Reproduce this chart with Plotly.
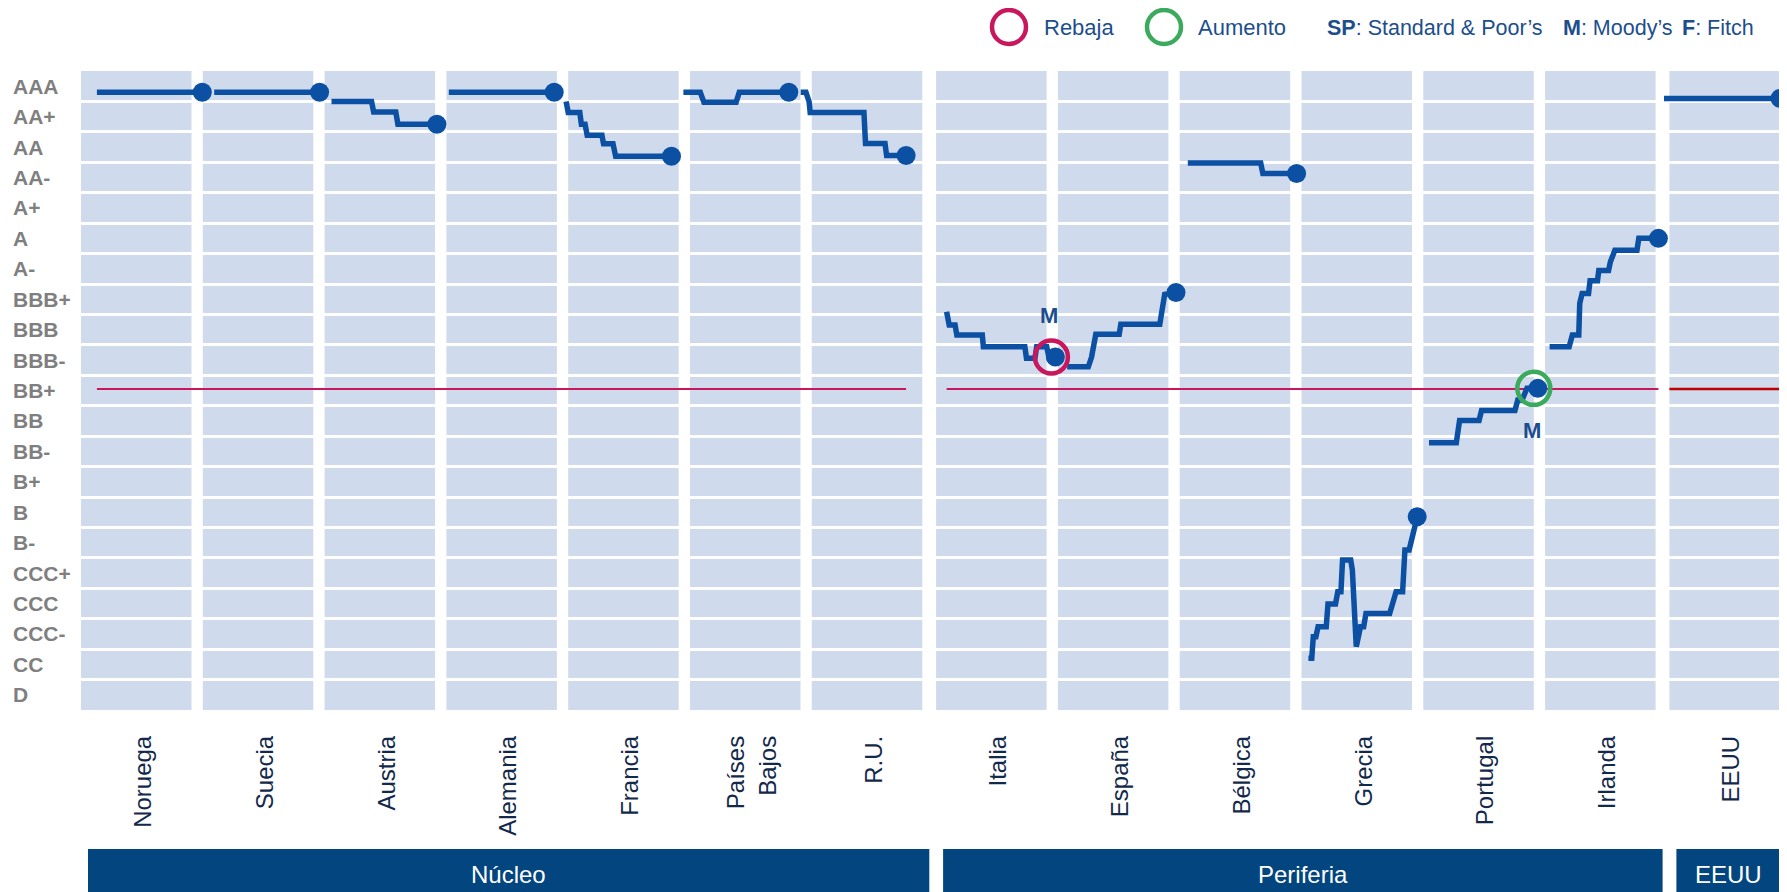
import plotly.graph_objects as go

# ---------------- data ----------------
ratings = ["D", "CC", "CCC-", "CCC", "CCC+", "B-", "B", "B+", "BB-", "BB", "BB+",
           "BBB-", "BBB", "BBB+", "A-", "A", "A+", "AA-", "AA", "AA+", "AAA"]
countries = ["Noruega", "Suecia", "Austria", "Alemania", "Francia", "Países<br>Bajos", "R.U.",
             "Italia", "España", "Bélgica", "Grecia", "Portugal", "Irlanda", "EEUU"]
country_group = ["Núcleo"] * 7 + ["Periferia"] * 6 + ["EEUU"]
group_names = ["Núcleo", "Periferia", "EEUU"]

# average rating (0 = D ... 20 = AAA) against fraction of the period shown
noruega_t = [0.0, 1.0]
noruega_v = [19.8, 19.8]
suecia_t = [0.0, 1.0]
suecia_v = [19.8, 19.8]
austria_t = [0.0, 0.38, 0.40, 0.61, 0.63, 1.0]
austria_v = [19.5, 19.5, 19.15, 19.15, 18.75, 18.75]
alemania_t = [0.0, 1.0]
alemania_v = [19.8, 19.8]
francia_t = [0.0, 0.02, 0.13, 0.145, 0.18, 0.2, 0.34, 0.355, 0.445, 0.47, 1.0]
francia_v = [19.5, 19.14, 19.14, 18.75, 18.75, 18.39, 18.39, 18.11, 18.11, 17.7, 17.7]
paises_bajos_t = [0.0, 0.16, 0.195, 0.5, 0.53, 1.0]
paises_bajos_v = [19.8, 19.8, 19.47, 19.47, 19.8, 19.8]
ru_t = [0.0, 0.05, 0.08, 0.09, 0.6, 0.615, 0.8, 0.815, 1.0]
ru_v = [19.8, 19.8, 19.49, 19.14, 19.14, 18.12, 18.12, 17.72, 17.72]
italia_t = [0.0, 0.024, 0.078, 0.094, 0.328, 0.338, 0.719, 0.734, 0.812, 0.828, 0.92, 0.94, 1.0]
italia_v = [12.59, 12.15, 12.15, 11.82, 11.82, 11.44, 11.44, 11.06, 11.06, 11.44, 11.44, 11.1, 11.1]
espana_t = [0.0, 0.194, 0.224, 0.263, 0.478, 0.493, 0.851, 0.866, 0.896, 1.0]
espana_v = [10.78, 10.78, 11.1, 11.85, 11.85, 12.18, 12.18, 12.55, 13.16, 13.22]
belgica_t = [0.0, 0.67, 0.69, 1.0]
belgica_v = [17.48, 17.48, 17.13, 17.13]
grecia_t = [0.0, 0.031, 0.045, 0.069, 0.089, 0.164, 0.18, 0.249, 0.27, 0.299, 0.314, 0.389,
            0.404, 0.44, 0.479, 0.508, 0.529, 0.747, 0.77, 0.806, 0.866, 0.887, 0.926, 0.947, 1.0]
grecia_v = [1.2, 1.2, 1.91, 1.91, 2.24, 2.24, 2.98, 2.98, 3.39, 3.39, 4.43, 4.43,
            4.1, 1.58, 2.24, 2.24, 2.67, 2.67, 2.95, 3.39, 3.39, 4.76, 4.76, 5.09, 5.85]
portugal_t = [0.0, 0.251, 0.268, 0.281, 0.46, 0.483, 0.79, 0.816, 0.856, 0.9, 1.0]
portugal_v = [8.28, 8.28, 8.7, 9.01, 9.01, 9.34, 9.34, 9.69, 9.69, 10.07, 10.07]
irlanda_t = [0.0, 0.18, 0.209, 0.268, 0.277, 0.299, 0.358, 0.372, 0.44, 0.452, 0.542, 0.559,
             0.6, 0.803, 0.82, 1.0]
irlanda_v = [11.44, 11.44, 11.82, 11.82, 12.86, 13.19, 13.19, 13.61, 13.61, 13.94, 13.94, 14.23,
             14.61, 14.61, 15.0, 15.0]
eeuu_t = [0.0, 1.0]
eeuu_v = [19.6, 19.6]

investment_grade_limit = 10.05
downgrade_country, downgrade_agency = "Italia", "M"
upgrade_country, upgrade_agency = "Portugal", "M"

series = {
    "Noruega": (noruega_t, noruega_v), "Suecia": (suecia_t, suecia_v),
    "Austria": (austria_t, austria_v), "Alemania": (alemania_t, alemania_v),
    "Francia": (francia_t, francia_v), "Países<br>Bajos": (paises_bajos_t, paises_bajos_v),
    "R.U.": (ru_t, ru_v), "Italia": (italia_t, italia_v), "España": (espana_t, espana_v),
    "Bélgica": (belgica_t, belgica_v), "Grecia": (grecia_t, grecia_v),
    "Portugal": (portugal_t, portugal_v), "Irlanda": (irlanda_t, irlanda_v),
    "EEUU": (eeuu_t, eeuu_v),
}

# ---------------- layout geometry & style ----------------
PAGE_W, PAGE_H = 1787, 892
BODY = 8                      # default page margin around the plot div
W, H = PAGE_W - BODY, PAGE_H - BODY
ML, MR, MT, MB = 81 - BODY, 7, 71 - BODY, 182
PW = W - ML - MR
PH = H - MT - MB
COL_PITCH, COL_W, GROUP_GAP = 121.8, 110.5, 2.5
LOWER_SHIFT = 7
LINE_GEOM = {"Núcleo": (15.9, 117.3, 105.4), "Periferia": (865.6, 120.6, 108.8),
             "EEUU": (1583.0, 0.0, 116.0)}

PANEL = "#CFDBEC"
LINE = "#0B50A3"
NAVY = "#03457F"
RED = "#C8175D"
RED_US = "#C00000"
GREEN = "#3BAA5C"
TXT_BLUE = "#1C4E8E"
FONT = "Liberation Sans, Arial, sans-serif"


def col_left(i):
    return i * COL_PITCH + group_names.index(country_group[i]) * GROUP_GAP


def line_x(i, t):
    g = country_group[i]
    members = [c for c in range(len(countries)) if country_group[c] == g]
    l0, pitch, span = LINE_GEOM[g]
    start = l0 + members.index(i) * pitch
    return [start + tt * span for tt in t]


def py(pix):  # page pixel row -> paper y
    return (PAGE_H - MB - pix) / PH


def px(pix):  # page pixel column -> paper x
    return (pix - 81) / PW


fig = go.Figure()
shapes, annotations = [], []

# column panels
for i in range(len(countries)):
    shapes.append(dict(type="rect", xref="x", yref="y", x0=col_left(i), x1=col_left(i) + COL_W,
                       y0=-0.5, y1=20.5, fillcolor=PANEL, line=dict(width=0), layer="below"))

# investment-grade threshold per group
for g in group_names:
    members = [c for c in range(len(countries)) if country_group[c] == g]
    xs = max(line_x(members[0], [0.0])[0], col_left(members[0]))
    xe = min(line_x(members[-1], [1.0])[0], PW)
    fig.add_trace(go.Scatter(x=[xs, xe], y=[investment_grade_limit] * 2, mode="lines",
                             line=dict(color=RED_US if g == "EEUU" else RED,
                                       width=2.5 if g == "EEUU" else 2),
                             hoverinfo="skip", showlegend=False))

# rating paths
end_x, end_y = [], []
for i, c in enumerate(countries):
    t, v = series[c]
    xs = line_x(i, t)
    fig.add_trace(go.Scatter(x=xs, y=v, mode="lines", line=dict(color=LINE, width=5.5),
                             hoverinfo="skip", showlegend=False, cliponaxis=False))
    end_x.append(xs[-1])
    end_y.append(v[-1])

fig.add_trace(go.Scatter(x=end_x, y=end_y, mode="markers",
                         marker=dict(size=19, color=LINE), cliponaxis=False,
                         hoverinfo="skip", showlegend=False))

# rating action circles
for country, agency, colr, shift in [(downgrade_country, downgrade_agency, RED, 42),
                                     (upgrade_country, upgrade_agency, GREEN, -42)]:
    i = countries.index(country)
    fig.add_trace(go.Scatter(x=[end_x[i] - 4], y=[end_y[i]], mode="markers",
                             marker=dict(symbol="circle-open", size=33, color=colr,
                                         line=dict(width=4.5, color=colr)),
                             cliponaxis=False, hoverinfo="skip", showlegend=False))
    annotations.append(dict(x=end_x[i] - 4, y=end_y[i], xref="x", yref="y", text="<b>%s</b>" % agency,
                            showarrow=False, yshift=shift, xshift=-2,
                            font=dict(family=FONT, size=22, color=TXT_BLUE)))

# y labels, left aligned
for k, r in enumerate(ratings):
    annotations.append(dict(x=px(11), y=k, xref="paper", yref="y", text="<b>%s</b>" % r,
                            xanchor="left", yanchor="middle", showarrow=False,
                            font=dict(family=FONT, size=21, color="#7F7F7F")))

# group bars
for g in group_names:
    members = [c for c in range(len(countries)) if country_group[c] == g]
    x0 = col_left(members[0]) + LOWER_SHIFT
    x1 = min(col_left(members[-1]) + COL_W + LOWER_SHIFT, PW)
    shapes.append(dict(type="rect", xref="x", yref="paper", x0=x0, x1=x1,
                       y0=py(PAGE_H + 5), y1=py(849), fillcolor=NAVY, line=dict(width=0)))
    annotations.append(dict(x=(x0 + x1) / 2, y=py(874), xref="x", yref="paper", text=g,
                            showarrow=False, xanchor="center", yanchor="middle",
                            font=dict(family=FONT, size=24, color="white")))

# legend
for cx, colr, label, tx in [(1009, RED, "Rebaja", 1041.8), (1164, GREEN, "Aumento", 1195.5)]:
    shapes.append(dict(type="circle", xref="paper", yref="paper", xsizemode="pixel",
                       ysizemode="pixel", xanchor=px(cx), yanchor=py(27),
                       x0=-17, x1=17, y0=-17, y1=17, line=dict(color=colr, width=4.5)))
    annotations.append(dict(x=px(tx), y=py(28), xref="paper", yref="paper", text=label,
                            xanchor="left", yanchor="middle", showarrow=False,
                            font=dict(family=FONT, size=22, color=TXT_BLUE)))
for tx, label in [(1325, "<b>SP</b>: Standard &amp; Poor’s"), (1561, "<b>M</b>: Moody’s"),
                  (1680, "<b>F</b>: Fitch")]:
    annotations.append(dict(x=px(tx), y=py(28), xref="paper", yref="paper", text=label,
                            xanchor="left", yanchor="middle", showarrow=False,
                            font=dict(family=FONT, size=21.5, color=TXT_BLUE)))

fig.update_layout(
    width=W, height=H, margin=dict(l=ML, r=MR, t=MT, b=MB, pad=0),
    paper_bgcolor="white", plot_bgcolor="white", template="none",
    shapes=shapes, annotations=annotations, showlegend=False,
    xaxis=dict(range=[0, PW], showgrid=False, zeroline=False, showline=False, automargin=False,
               tickmode="array",
               tickvals=[col_left(i) + COL_W / 2 + LOWER_SHIFT for i in range(len(countries))],
               ticktext=countries, tickangle=-90, ticks="", ticklabelstandoff=20,
               tickfont=dict(family=FONT, size=24, color="#13294B")),
    yaxis=dict(range=[-0.5, 20.5], showgrid=False, zeroline=False, showline=False,
               showticklabels=False, ticks="", automargin=False,
               minor=dict(tickmode="array", tickvals=[k + 0.5 for k in range(20)],
                          showgrid=True, gridcolor="white", gridwidth=2.5, ticks="")),
)

fig.write_html("out.html")
